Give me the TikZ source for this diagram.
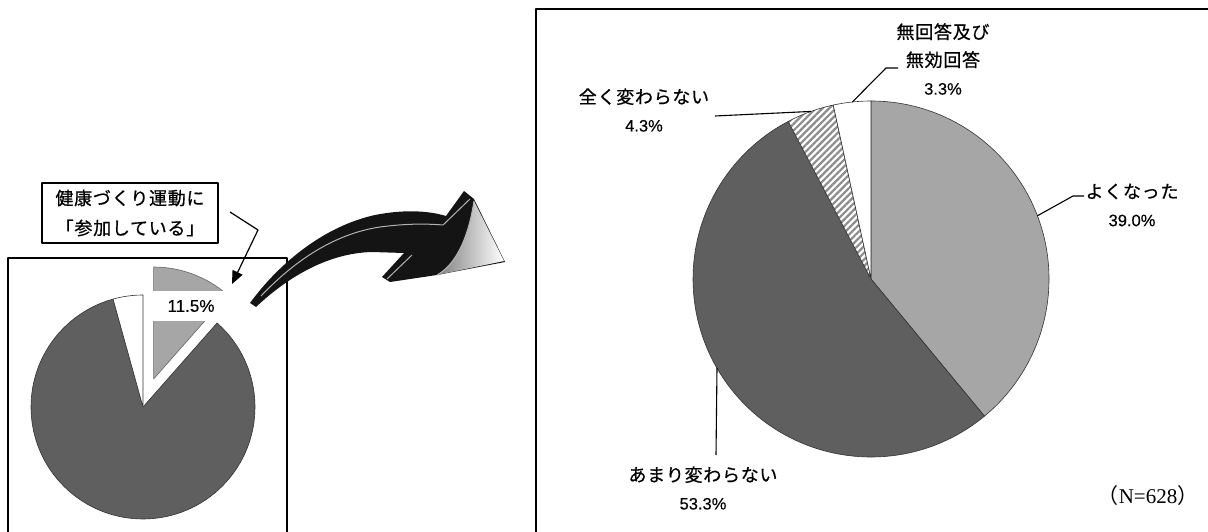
\documentclass[tikz,border=0pt]{standalone}
\usepackage{fontspec}
\setmainfont{Liberation Sans}[FakeBold=0.35]
\newfontfamily\jp[LetterSpace=4,FakeBold=0.7]{Noto Sans CJK JP}
\newfontfamily\jpn{Noto Sans CJK JP}
\newfontfamily\serifN{Liberation Serif}
\usetikzlibrary{arrows.meta,patterns.meta,calc}
\definecolor{pielight}{HTML}{A6A6A6}
\definecolor{piedark}{HTML}{5F5F5F}
\tikzset{
  frame/.style={line width=1.5pt},
  slice/.style={draw=black!80, line width=0.6pt},
  leader/.style={line width=1.1pt},
  lab/.style={align=center, inner sep=0pt, font=\fontsize{18}{28}\selectfont},
  hilite/.style={black!30, line width=1pt},
}
\begin{document}
\begin{tikzpicture}[x=1pt,y=-1pt,line join=round]
\useasboundingbox (0,0) rectangle (1208,532);
% frames
\draw[frame] (8,533) -- (8,258) -- (287,258) -- (287,533);
\draw[frame] (536,533) -- (536,9) -- (1209,9);

% ---------- left pie ----------
\coordinate (LC) at (143,407);
\coordinate (LG) at (153.6,379);
\filldraw[slice, fill=piedark] (LC) -- ++(-48.6:112) arc[start angle=-48.6, end angle=254.5, radius=112] -- cycle;
\filldraw[slice, fill=white] (LC) -- ++(-105.5:112) arc[start angle=-105.5, end angle=-90, radius=112] -- cycle;
\filldraw[slice, draw=black!60, fill=pielight] (LG) -- ++(-90:112) arc[start angle=-90, end angle=-48.6, radius=112] -- cycle;
\node[fill=white, minimum width=76pt, minimum height=30pt, inner sep=0pt, font=\fontsize{17}{20}\selectfont] (lpct) at (191,306) {11.5\%};

% label box and its pointer
\node[draw, line width=1.2pt, fill=white, align=center, minimum width=176pt, minimum height=60pt, inner sep=0pt, font=\jp\fontsize{18}{30}\selectfont] (lbl) at (130,213) {健康づくり運動に\\「参加している」};
\coordinate (a1) at (230,212);
\coordinate (a2) at (258,230);
\coordinate (a3) at (232,284);
\draw[line width=1.2pt, -{Triangle[length=13pt,width=11pt]}] (a1) -- (a2) -- (a3);

% ---------- big curved arrow ----------
\fill[black!92] (250,303) .. controls (280,262) and (325,226) .. (375,215)
  .. controls (405,209) and (430,211) .. (446,216) -- (464,191) -- (474,199)
  -- (505,262) -- (437,275) -- (390,282) -- (382,277) -- (404,253)
  -- (372,252) .. controls (330,253) and (290,275) .. (256,307) -- cycle;
\shade[left color=black!50, right color=white] (474,201) -- (504,261) -- (437,275)
  .. controls (455,265) and (468,240) .. (474,201) -- cycle;
\draw[hilite] (261,296) .. controls (300,255) and (340,233) .. (380,227)
  .. controls (410,223) and (430,224) .. (443,225) -- (470,199);
\draw[hilite] (474,201) .. controls (468,240) and (455,265) .. (437,275);
\draw[hilite] (387,279) -- (412,255);

% ---------- right pie ----------
\coordinate (RC) at (871,279);
\filldraw[slice, fill=pielight] (RC) -- ++(-90:178) arc[start angle=-90, end angle=50.4, radius=178] -- cycle;
\filldraw[slice, fill=piedark] (RC) -- ++(50.4:178) arc[start angle=50.4, end angle=242.28, radius=178] -- cycle;
\fill[white] (RC) -- ++(242.28:178) arc[start angle=242.28, end angle=257.76, radius=178] -- cycle;
\filldraw[slice, pattern={Lines[angle=45,distance=4.7pt,line width=2.2pt]}, pattern color=black!45] (RC) -- ++(242.28:178) arc[start angle=242.28, end angle=257.76, radius=178] -- cycle;
\filldraw[slice, fill=white] (RC) -- ++(257.76:178) arc[start angle=257.76, end angle=270, radius=178] -- cycle;

% labels
\node[lab] (lmu) at (943,59) {{\jp 無回答及び}\\{\jp 無効回答}\\{\fontsize{16.5}{20}\selectfont 3.3\%}};
\node[lab] (lzen) at (644,110) {{\jp 全く変わらない}\\{\fontsize{16.5}{20}\selectfont 4.3\%}};
\node[lab] (lyoku) at (1132,205) {{\jp よくなった}\\{\fontsize{16.5}{20}\selectfont 39.0\%}};
\node[lab] (lama) at (703,488) {{\jp あまり変わらない}\\{\fontsize{16.5}{20}\selectfont 53.3\%}};
\node[inner sep=0pt, font=\fontsize{21}{24}\selectfont] (nn) at (1148,496) {{\jpn （}{\serifN N=628}{\jpn ）}};

% leaders
\coordinate (pmu) at ($(RC)+(-96:178)$);
\coordinate (kmu) at (886,68);
\coordinate (emu) at (898,68);
\draw[leader] (pmu) -- (kmu) -- (emu);
\coordinate (pzen) at ($(RC)+(-109.7:178)$);
\coordinate (ezen) at (715,116);
\draw[leader] (pzen) -- (ezen);
\coordinate (pyoku) at ($(RC)+(-20.8:178)$);
\coordinate (kyoku) at (1073,196);
\coordinate (eyoku) at (1084,196);
\draw[leader] (pyoku) -- (kyoku) -- (eyoku);
\coordinate (pama) at (717,368);
\coordinate (eama) at (716,455);
\draw[leader] (pama) -- (eama);
\end{tikzpicture}
\end{document}
